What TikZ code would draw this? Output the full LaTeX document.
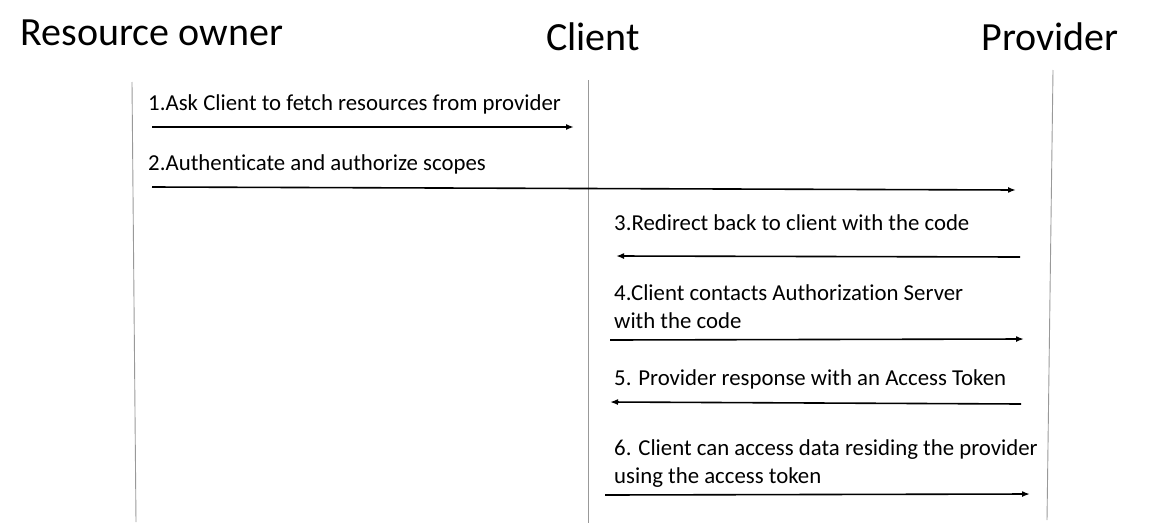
\documentclass[tikz,border=0pt]{standalone}
\usepackage{fontspec}
\setmainfont[Ligatures=CommonOff]{Carlito}
\usetikzlibrary{arrows.meta}

\begin{document}
\begin{tikzpicture}[x=1pt,y=-1pt,
    actor/.style={font=\fontsize{40}{46}\selectfont,inner sep=0pt},
    msg/.style={anchor=base west,align=left,inner sep=0pt,
      font=\fontsize{22.8}{28}\selectfont},
    life/.style={draw=gray!80,line width=0.9pt},
    call/.style={-{Latex[length=8pt,width=6pt]},line width=1.6pt}]
  \useasboundingbox (0,0) rectangle (1164,525);

  % actors
  \node (owner)    [actor] at (152,33) {Resource owner};
  \node (client)   [actor] at (593,37) {Client};
  \node (provider) [actor] at (1050,37) {Provider};

  % lifelines
  \coordinate (o1) at (132,82);  \coordinate (o2) at (136,522);
  \coordinate (c1) at (588,80);  \coordinate (c2) at (588,523);
  \coordinate (p1) at (1053,70); \coordinate (p2) at (1047,520);
  \draw [life] (o1) -- (o2);
  \draw [life] (c1) -- (c2);
  \draw [life] (p1) -- (p2);

  % messages
  \coordinate (m1a) at (152,127);  \coordinate (m1b) at (574,127);
  \coordinate (m2a) at (152,187);  \coordinate (m2b) at (1016,190);
  \coordinate (m3a) at (1020,257); \coordinate (m3b) at (616,256);
  \coordinate (m4a) at (610,340);  \coordinate (m4b) at (1024,339);
  \coordinate (m5a) at (1021,404); \coordinate (m5b) at (610,402);
  \coordinate (m6a) at (605,495);  \coordinate (m6b) at (1030,494);

  \draw [call] (m1a) -- (m1b);
  \draw [call] (m2a) -- (m2b);
  \draw [call] (m3a) -- (m3b);
  \draw [call] (m4a) -- (m4b);
  \draw [call] (m5a) -- (m5b);
  \draw [call] (m6a) -- (m6b);

  % labels (base = last line)
  \node (l1) [msg] at (148,110) {1.Ask Client to fetch resources from provider};
  \node (l2) [msg] at (148,170) {2.Authenticate and authorize scopes};
  \node (l3) [msg] at (614,230) {3.Redirect back to client with the code};
  \node (l4) [msg] at (614,328) {4.Client contacts Authorization Server\\with the code};
  \node (l5) [msg] at (614,385) {5. Provider response with an Access Token};
  \node (l6) [msg] at (614,483) {6. Client can access data residing the provider\\using the access token};
\end{tikzpicture}
\end{document}
